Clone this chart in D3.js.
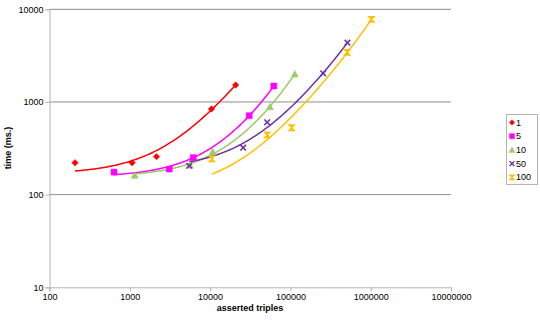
<!DOCTYPE html>
<html>
<head>
<meta charset="utf-8">
<script src="https://cdn.jsdelivr.net/npm/d3@7"></script>
<style>
  body { margin: 0; background: #fff; }
  text { font-family: "Liberation Sans", Arial, sans-serif; }
</style>
</head>
<body>
<div id="chart"></div>
<script>
// series names and values
var seriesNames = ["1", "5", "10", "50", "100"];
var seriesColors = ["#ff0000", "#ff00ff", "#99cc66", "#7030a0", "#ffc000"];
var seriesShapes = ["diamond", "square", "triangle", "x", "hourglass"];

var x1 = [208, 1070, 2150, 10400, 20800];
var y1 = [221, 221, 257, 840, 1525];
var x5 = [636, 3100, 6170, 30700, 62200];
var y5 = [175, 189, 251, 711, 1486];
var x10 = [1150, 5600, 10750, 55500, 113500];
var y10 = [162, 208, 290, 889, 2005];
var x50 = [5500, 25800, 51400, 255700, 513500];
var y50 = [205, 321, 604, 2037, 4366];
var x100 = [10500, 51400, 103300, 508000, 1023000];
var y100 = [243, 441, 527, 3436, 7800];

var xTicks = [100, 1000, 10000, 100000, 1000000, 10000000];
var yTicks = [10, 100, 1000, 10000];

var seriesX = [x1, x5, x10, x50, x100];
var seriesY = [y1, y5, y10, y50, y100];

var width = 540, height = 320;

var x = d3.scaleLog().domain([100, 10000000]).range([49.5, 451]);
var y = d3.scaleLog().domain([10, 10000]).range([287.3, 9.3]);

var svg = d3.select('#chart')
  .append('svg')
  .attr('width', width)
  .attr('height', height);

//Gridlines
svg.selectAll('.grid')
  .data(yTicks.slice(1))
  .enter()
  .append('line')
  .attr('x1', x.range()[0])
  .attr('x2', x.range()[1])
  .attr('y1', function(d) { return y(d); })
  .attr('y2', function(d) { return y(d); })
  .attr('stroke', '#8c8c8c')
  .attr('stroke-width', 1);

//Axes
var xAxis = d3.axisBottom(x).tickValues(xTicks).tickFormat(d3.format('d')).tickSize(4);
var yAxis = d3.axisLeft(y).tickValues(yTicks).tickFormat(d3.format('d')).tickSize(4);

var gx = svg.append('g').attr('transform', 'translate(0,' + y.range()[0] + ')').call(xAxis);
var gy = svg.append('g').attr('transform', 'translate(' + x.range()[0] + ',0)').call(yAxis);

[gx, gy].forEach(function(g) {
  g.select('.domain').attr('stroke', '#b4b4b4');
  g.selectAll('.tick line').attr('stroke', '#b4b4b4');
  g.selectAll('.tick text').attr('fill', '#000').style('font-size', '9px')
    .style('font-family', '"Liberation Sans", Arial, sans-serif');
});
gx.selectAll('.tick text').attr('dy', '0.95em').attr('y', 4);
gy.selectAll('.tick text').attr('x', -6);

//Axis titles
svg.append('text')
  .attr('x', 250)
  .attr('y', 311)
  .attr('text-anchor', 'middle')
  .style('font-size', '9px')
  .style('font-weight', 'bold')
  .text('asserted triples');

svg.append('text')
  .attr('transform', 'translate(11,148) rotate(-90)')
  .attr('text-anchor', 'middle')
  .style('font-size', '9px')
  .style('font-weight', 'bold')
  .text('time (ms.)');

//Least squares polynomial (order 2) trendline, like the spreadsheet's
function polyFit(xs, ys) {
  var s = d3.max(xs);
  var S = [0, 0, 0, 0, 0], T = [0, 0, 0];
  xs.forEach(function(xv, i) {
    var u = xv / s;
    for (var k = 0; k < 5; k++) S[k] += Math.pow(u, k);
    for (var k = 0; k < 3; k++) T[k] += ys[i] * Math.pow(u, k);
  });
  var A = [[S[0], S[1], S[2], T[0]], [S[1], S[2], S[3], T[1]], [S[2], S[3], S[4], T[2]]];
  for (var i = 0; i < 3; i++) {
    for (var j = i + 1; j < 3; j++) {
      var f = A[j][i] / A[i][i];
      for (var k = i; k < 4; k++) A[j][k] -= f * A[i][k];
    }
  }
  var c = [0, 0, 0];
  for (var i = 2; i >= 0; i--) {
    var v = A[i][3];
    for (var k = i + 1; k < 3; k++) v -= A[i][k] * c[k];
    c[i] = v / A[i][i];
  }
  return function(xv) { var u = xv / s; return c[0] + c[1] * u + c[2] * u * u; };
}

var line = d3.line()
  .x(function(d) { return x(d[0]); })
  .y(function(d) { return y(d[1]); });

seriesNames.forEach(function(name, i) {
  var xs = seriesX[i], ys = seriesY[i];
  var fit = polyFit(xs, ys);
  var lo = Math.log10(d3.min(xs)), hi = Math.log10(d3.max(xs));
  var pts = d3.range(0, 101).map(function(k) {
    var xv = Math.pow(10, lo + (hi - lo) * k / 100);
    return [xv, fit(xv)];
  }).filter(function(p) { return p[1] > 10; });

  svg.append('path')
    .datum(pts)
    .attr('d', line)
    .attr('fill', 'none')
    .attr('stroke', seriesColors[i])
    .attr('stroke-width', 1.5);
});

//Marker shapes
function markerPath(shape) {
  if (shape == 'diamond') return 'M0,-3.2L3.2,0L0,3.2L-3.2,0Z';
  if (shape == 'square') return 'M-3,-3H3V3H-3Z';
  if (shape == 'triangle') return 'M0,-3.5L3.5,3L-3.5,3Z';
  if (shape == 'x') return 'M-2.8,-2.8L2.8,2.8M-2.8,2.8L2.8,-2.8';
  return 'M-2.8,-2.8H2.8L-2.8,2.8H2.8Z';
}

function drawMarker(g, i) {
  var shape = seriesShapes[i];
  g.append('path')
    .attr('d', markerPath(shape))
    .attr('fill', shape == 'x' ? 'none' : seriesColors[i])
    .attr('stroke', seriesColors[i])
    .attr('stroke-width', shape == 'x' ? 1.6 : (shape == 'hourglass' ? 1.2 : 0.5));
}

seriesNames.forEach(function(name, i) {
  seriesX[i].forEach(function(xv, j) {
    var g = svg.append('g')
      .attr('transform', 'translate(' + x(xv) + ',' + y(seriesY[i][j]) + ')');
    drawMarker(g, i);
  });
});

//Legend
var legend = svg.append('g');
legend.append('rect')
  .attr('x', 506.5)
  .attr('y', 114.5)
  .attr('width', 31)
  .attr('height', 70)
  .attr('fill', '#fff')
  .attr('stroke', '#b4b4b4');

seriesNames.forEach(function(name, i) {
  var ly = 122.5 + i * 13.7;
  var g = legend.append('g').attr('transform', 'translate(512,' + ly + ') scale(0.85)');
  drawMarker(g, i);
  legend.append('text')
    .attr('x', 516)
    .attr('y', ly)
    .attr('dy', '0.35em')
    .style('font-size', '9px')
    .text(name);
});
</script>
</body>
</html>
